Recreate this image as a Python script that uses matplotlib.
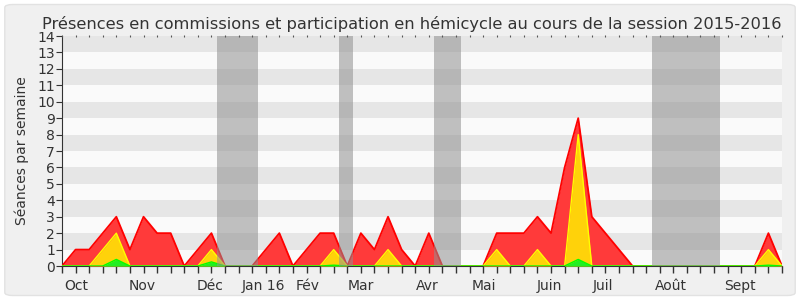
import numpy as np
import matplotlib.pyplot as plt
from matplotlib.patches import FancyBboxPatch

# une valeur par semaine, session 2015-2016
semaines = np.arange(54)
commission = [0, 1, 1, 2, 3, 1, 3, 2, 2, 0, 1, 2, 0, 0, 0, 1, 2, 0, 1, 2,
              2, 0, 2, 1, 3, 1, 0, 2, 0, 0, 0, 0, 2, 2, 2, 3, 2, 6, 9, 3,
              2, 1, 0, 0, 0, 0, 0, 0, 0, 0, 0, 0, 2, 0]
hemicycle = [0, 0, 0, 1, 2, 0, 0, 0, 0, 0, 0, 1, 0, 0, 0, 0, 0, 0, 0, 0,
             1, 0, 0, 0, 1, 0, 0, 0, 0, 0, 0, 0, 1, 0, 0, 1, 0, 0, 8, 0,
             0, 0, 0, 0, 0, 0, 0, 0, 0, 0, 0, 0, 1, 0]
interventions = [0, 0, 0, 0, 0.4, 0, 0, 0, 0, 0, 0, 0.25, 0, 0, 0, 0, 0, 0, 0, 0,
                 0.05, 0, 0, 0, 0, 0, 0, 0, 0, 0, 0, 0, 0, 0, 0, 0, 0, 0, 0.4, 0,
                 0, 0, 0, 0, 0, 0, 0, 0, 0, 0, 0, 0, 0.05, 0]

# vacances parlementaires (en semaines)
vacances = [(11.4, 14.4), (20.4, 21.45), (27.4, 29.4), (43.4, 48.4)]

mois = ['Oct', 'Nov', 'Déc', 'Jan 16', 'Fév', 'Mar', 'Avr', 'Mai', 'Juin', 'Juil', 'Août', 'Sept']
pos_mois = [1.08, 5.93, 10.9, 14.8, 18.07, 22.0, 26.9, 31.07, 35.85, 39.8, 44.85, 49.9]

fig = plt.figure(figsize=(8, 3), dpi=100)
fig.patch.set_facecolor('white')
fond = FancyBboxPatch((0.006, 0.015), 0.988, 0.97, boxstyle='round,pad=0,rounding_size=0.01',
                      transform=fig.transFigure, facecolor='#f0f0f0', edgecolor='#e2e2e2', lw=1,
                      zorder=-10)
fig.patches.append(fond)

ax = fig.add_axes([0.0775, 0.1133, 0.9, 0.7667])
ax.set_facecolor('#fafafa')
for k in range(1, 14, 2):
    ax.axhspan(k, k + 1, color='#e6e6e6', lw=0, zorder=0)

ax.fill_between(semaines, commission, color='#ff3a3a', lw=0, zorder=2)
ax.plot(semaines, commission, color='#ff0000', lw=1.3, zorder=3)
ax.fill_between(semaines, hemicycle, color='#ffd20a', lw=0, zorder=4)
ax.plot(semaines, hemicycle, color='#ffff00', lw=1, zorder=5)
ax.fill_between(semaines, interventions, color='#22ee22', lw=0, zorder=6)
ax.plot(semaines, interventions, color='#00ff00', lw=1, zorder=7)

for a, b in vacances:
    ax.axvspan(a, b, color='#909090', alpha=0.55, lw=0, zorder=8)

ax.set_xlim(0, 53)
ax.set_ylim(0, 14)
ax.set_yticks(range(15))
ax.set_xticks(semaines, labels=[''] * len(semaines))
ax.tick_params(axis='x', length=5, width=1, color='#333333', direction='out', bottom=True)
ax.tick_params(axis='y', length=4, color='#333333', pad=1, labelsize=10, labelcolor='#333333')

# petits pointillés en haut
ax.plot(semaines, [14] * len(semaines), ls='none', marker='|', ms=1.5, mew=0.8,
        color='#555555', clip_on=False, zorder=9)

for m, p in zip(mois, pos_mois):
    ax.text(p, -0.055, m, transform=ax.get_xaxis_transform(), ha='center', va='top',
            fontsize=10, color='#333333')

for s in ['top', 'right']:
    ax.spines[s].set_visible(False)
ax.spines['left'].set_color('#333333')
ax.spines['bottom'].set_color('#333333')

ax.set_ylabel('Séances par semaine', fontsize=10, color='#333333', labelpad=6)
ax.set_title('Présences en commissions et participation en hémicycle au cours de la session 2015-2016',
             fontsize=11.7, color='#333333', pad=5, x=0.486)

plt.savefig('out.png', dpi=100)
